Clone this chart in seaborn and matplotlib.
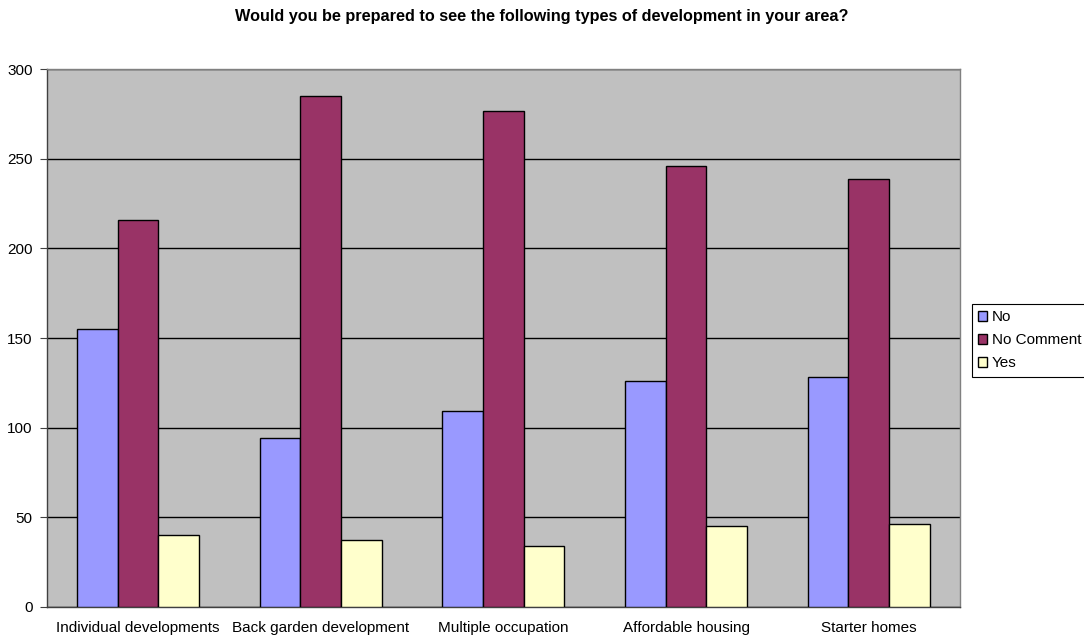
import pandas as pd
import matplotlib
matplotlib.use("Agg")
import matplotlib.pyplot as plt
import seaborn as sns
from matplotlib.patches import Patch

categories = ["Individual developments", "Back garden development", "Multiple occupation",
              "Affordable housing", "Starter homes"]
series = ["No", "No Comment", "Yes"]
no_vals = [155, 94, 109, 126, 128]
nocomment_vals = [216, 285, 277, 246, 239]
yes_vals = [40, 37, 34, 45, 46]
colors = ["#9999FF", "#993366", "#FFFFCC"]

df = pd.DataFrame({
    "category": categories * 3,
    "answer": ["No"] * 5 + ["No Comment"] * 5 + ["Yes"] * 5,
    "count": no_vals + nocomment_vals + yes_vals,
})

sns.set_style("white")
plt.rcParams["font.family"] = ["Liberation Sans", "DejaVu Sans"]
plt.rcParams["text.color"] = "black"
plt.rcParams["xtick.labelcolor"] = "black"
plt.rcParams["ytick.labelcolor"] = "black"

fig = plt.figure(figsize=(10.84, 6.42), dpi=100)
ax = fig.add_axes([0.0431, 0.055, 0.8425, 0.837])
ax.set_facecolor("#C0C0C0")

sns.barplot(data=df, x="category", y="count", hue="answer", order=categories,
            hue_order=series, palette=colors, width=0.667, gap=0,
            edgecolor="black", linewidth=1, saturation=1, legend=False, ax=ax, zorder=3)

ax.set_ylim(0, 300)
ax.set_xlim(-0.5, 4.5)
ax.set_yticks(range(0, 301, 50))
ax.yaxis.grid(True, color="black", linewidth=1, zorder=0)
ax.set_axisbelow(True)
ax.set_xlabel("")
ax.set_ylabel("")

# category boundary ticks like the spreadsheet
ax.set_xticks([i - 0.5 for i in range(6)], minor=True)
ax.tick_params(axis="x", which="major", length=0, pad=10, labelsize=11, labelcolor="black")
ax.tick_params(axis="x", which="minor", length=5, color="#404040", direction="out")
ax.tick_params(axis="y", length=5, color="#404040", direction="out", labelsize=11, pad=5,
               left=True, labelcolor="black")

for side in ["top", "right"]:
    ax.spines[side].set_color("#808080")
    ax.spines[side].set_linewidth(1)
for side in ["left", "bottom"]:
    ax.spines[side].set_color("#404040")
    ax.spines[side].set_linewidth(1)

fig.text(0.5, 0.975, "Would you be prepared to see the following types of development in your area?",
         ha="center", va="center", fontsize=11.7, fontweight="bold", color="black")

handles = [Patch(facecolor=c, edgecolor="black", linewidth=1) for c in colors]
leg = fig.legend(handles, series, loc="upper left", bbox_to_anchor=(972 / 1084, 1 - 304 / 642),
                 fontsize=11, frameon=True, fancybox=False, shadow=False, framealpha=1,
                 handlelength=0.6, handleheight=0.6, handletextpad=0.3, borderpad=0.4,
                 labelspacing=0.6, borderaxespad=0, labelcolor="black")
leg.get_frame().set_edgecolor("black")
leg.get_frame().set_linewidth(0.8)

fig.savefig("out.png", dpi=100, facecolor="white")
